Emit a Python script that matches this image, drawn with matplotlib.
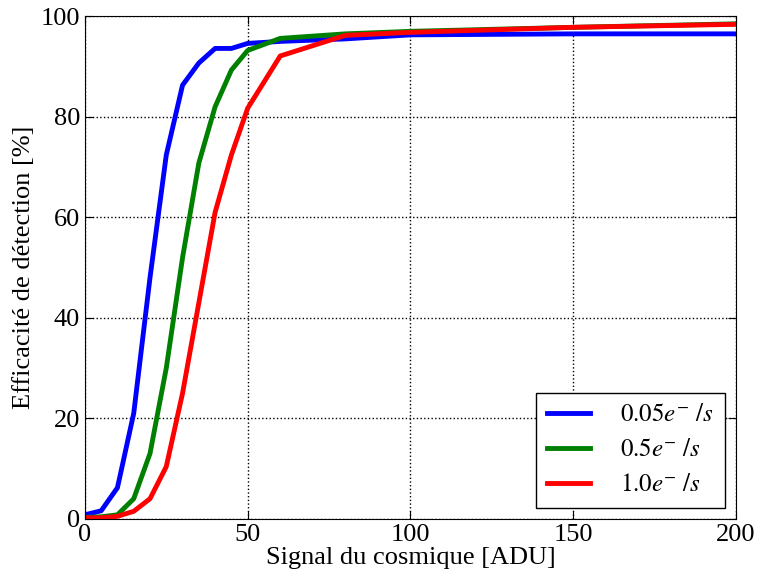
import matplotlib
matplotlib.use('Agg')
import matplotlib.pyplot as plt

plt.rcParams['font.family'] = 'Liberation Serif'
plt.rcParams['mathtext.fontset'] = 'stix'
plt.rcParams['xtick.direction'] = 'in'
plt.rcParams['ytick.direction'] = 'in'

# signal du cosmique (ADU)
signal = [0, 5, 10, 15, 20, 25, 30, 35, 40, 45, 50, 60, 80, 100, 150, 200]

eff_005 = [0.8, 1.6, 6.2, 21, 48, 72.4, 86.3, 90.7, 93.6, 93.6, 94.6, 95.0, 95.5, 96.3, 96.5, 96.5]
eff_05 = [0.3, 0.4, 0.8, 4.0, 13.0, 30.0, 52.0, 70.8, 82.0, 89.3, 93.2, 95.6, 96.5, 97.0, 97.8, 98.5]
eff_10 = [0.2, 0.2, 0.5, 1.5, 4.0, 10.4, 25.0, 43.0, 61.0, 72.4, 81.7, 92.1, 96.2, 96.8, 97.8, 98.4]

fig = plt.figure(figsize=(7.58, 5.81), dpi=100)
ax = fig.add_axes([0.112, 0.107, 0.859, 0.865])

ax.plot(signal, eff_005, color='blue', lw=3.5, label=r'$0.05e^{-}\ /s$')
ax.plot(signal, eff_05, color='green', lw=3.5, label=r'$0.5e^{-}\ /s$')
ax.plot(signal, eff_10, color='red', lw=3.5, label=r'$1.0e^{-}\ /s$')

ax.set_xlim(0, 200)
ax.set_ylim(0, 100)
ax.set_xticks([0, 50, 100, 150, 200])
ax.set_yticks([0, 20, 40, 60, 80, 100])
ax.tick_params(labelsize=19, length=6, top=True, right=True)
ax.grid(True, color='black', linestyle=':', linewidth=1)

ax.set_xlabel('Signal du cosmique [ADU]', fontsize=19, labelpad=1)
ax.set_ylabel('Efficacité de détection [%]', fontsize=19, labelpad=4)

leg = ax.legend(loc='lower right', fontsize=18, fancybox=False, framealpha=1,
                edgecolor='black', handlelength=1.7, handletextpad=1.2,
                borderpad=0.45, labelspacing=0.5, borderaxespad=0.45)
leg.get_frame().set_linewidth(1)

fig.savefig('out.png', dpi=100)
